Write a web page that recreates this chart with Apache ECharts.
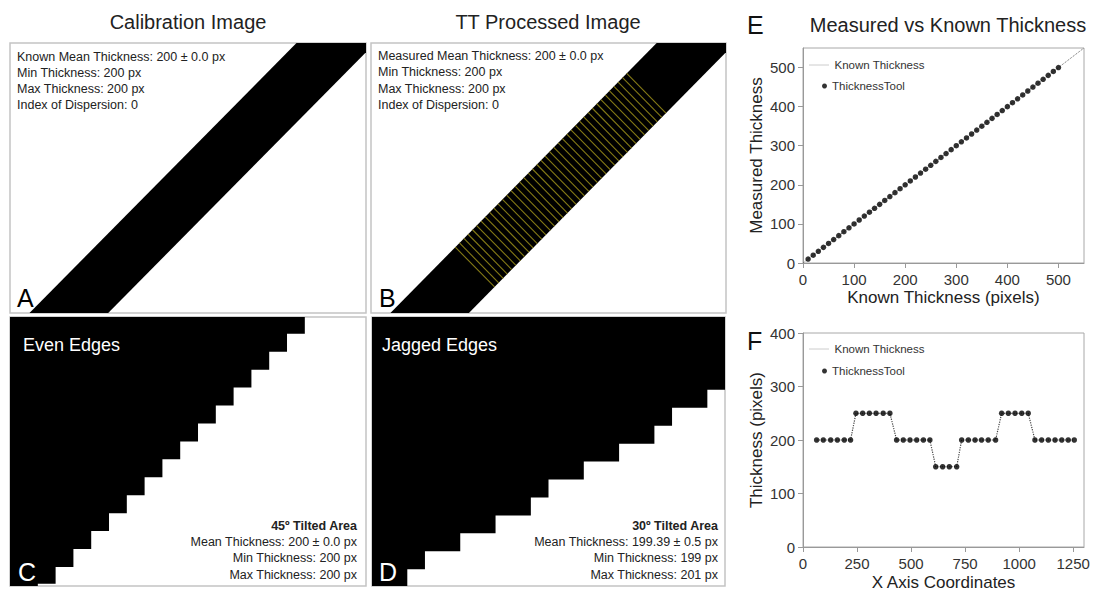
<!DOCTYPE html>
<html>
<head>
<meta charset="utf-8">
<script src="https://cdn.jsdelivr.net/npm/echarts@6/dist/echarts.min.js"></script>
<style>
  html, body { margin: 0; padding: 0; background: #fff; }
  #chart { width: 1095px; height: 591px; }
</style>
</head>
<body>
<div id="chart"></div>
<script>
const FONT = "'Liberation Sans', Arial, Helvetica, sans-serif";

// ---- Test images (pixel coordinates of a 1280 x 960 image, y pointing down) ----
const imageSize = [1280, 960];

// Straight calibration band: its two edges, each given by the point on the top row and on the bottom row
const bandUpperEdge = [[1030, 0], [70, 960]];
const bandLowerEdge = [[1313, 0], [353, 960]];

// Where each thickness probe starts on the band's upper edge (row of the image)
const probeRows = [108, 123, 139, 154, 170, 185, 201, 216, 232, 247, 263, 278, 293, 309, 324, 340,
                   355, 371, 386, 402, 417, 432, 448, 463, 479, 494, 510, 525, 541, 556, 572, 587,
                   602, 618, 633, 649, 664, 680, 695, 711, 726];

// Even-edged 45° staircase: column reached by each step, and the row where each step ends
const evenStepX = [1060, 996, 932, 868, 804, 740, 676, 612, 548, 484, 420, 356, 292, 228, 164, 100];
const evenStepY = [60, 124, 188, 252, 316, 380, 444, 508, 572, 636, 700, 764, 828, 892, 952];

// Jagged-edged 30° staircase
const jaggedStepX = [1280, 1216, 1088, 1024, 896, 768, 640, 576, 448, 320, 192, 128];
const jaggedStepY = [260, 324, 388, 452, 516, 580, 644, 708, 772, 836, 900];

// ---- E: measured vs known thickness ----
const eKnown = [10, 20, 30, 40, 50, 60, 70, 80, 90, 100, 110, 120, 130, 140, 150, 160, 170, 180, 190, 200,
                210, 220, 230, 240, 250, 260, 270, 280, 290, 300, 310, 320, 330, 340, 350, 360, 370, 380, 390, 400,
                410, 420, 430, 440, 450, 460, 470, 480, 490, 500];
const eMeasured = [10, 20, 30, 40, 50, 60, 70, 80, 90, 100, 110, 120, 130, 140, 150, 160, 170, 180, 190, 200,
                   210, 220, 230, 240, 250, 260, 270, 280, 290, 300, 310, 320, 330, 340, 350, 360, 370, 380, 390, 400,
                   410, 420, 430, 440, 450, 460, 470, 480, 490, 500];
const eIdentityX = [0, 550];
const eIdentityY = [0, 550];
const eTicks = [0, 100, 200, 300, 400, 500];

// ---- F: thickness along the x axis of a shape with steps ----
const fX = [63, 94, 128, 159, 191, 220, 245, 276, 307, 338, 371, 402, 433, 464, 495, 526, 557, 587, 614, 646,
            677, 711, 734, 765, 796, 826, 857, 891, 919, 950, 981, 1012, 1042, 1073, 1104, 1135, 1166, 1197, 1227, 1255];
const fKnown = [200, 200, 200, 200, 200, 200, 250, 250, 250, 250, 250, 250, 200, 200, 200, 200, 200, 200, 150, 150,
                150, 150, 200, 200, 200, 200, 200, 200, 250, 250, 250, 250, 250, 200, 200, 200, 200, 200, 200, 200];
const fMeasured = [200, 200, 200, 200, 200, 200, 250, 250, 250, 250, 250, 250, 200, 200, 200, 200, 200, 200, 150, 150,
                   150, 150, 200, 200, 200, 200, 200, 200, 250, 250, 250, 250, 250, 200, 200, 200, 200, 200, 200, 200];
const fXTicks = [0, 250, 500, 750, 1000, 1250];
const fYTicks = [0, 100, 200, 300, 400];

// ---- geometry helpers ----
function cross(a, b) { return a[0] * b[1] - a[1] * b[0]; }

function bandPolygon() {
  return [bandUpperEdge[0], bandLowerEdge[0], bandLowerEdge[1], bandUpperEdge[1]];
}

// Each probe runs perpendicular to the band, from the upper edge to the lower edge
function probeSegments() {
  const U0 = bandUpperEdge[0], U1 = bandUpperEdge[1];
  const L0 = bandLowerEdge[0], L1 = bandLowerEdge[1];
  const d = [U1[0] - U0[0], U1[1] - U0[1]];
  const n = [Math.abs(d[1]), Math.abs(d[0])];
  const dL = [L1[0] - L0[0], L1[1] - L0[1]];
  return probeRows.map(function (row) {
    const t = (row - U0[1]) / (U1[1] - U0[1]);
    const p = [U0[0] + t * d[0], row];
    const s = cross([L0[0] - p[0], L0[1] - p[1]], dL) / cross(n, dL);
    return [p[0], p[1], p[0] + s * n[0], p[1] + s * n[1]];
  });
}

function stairPolygon(xs, ys) {
  const pts = [[0, 0], [xs[0], 0]];
  for (let i = 0; i < ys.length; i++) {
    pts.push([xs[i], ys[i]]);
    pts.push([xs[i + 1], ys[i]]);
  }
  pts.push([xs[xs.length - 1], imageSize[1]]);
  pts.push([0, imageSize[1]]);
  return pts;
}

function polygonSeries(gridIndex, pts, color) {
  return {
    type: 'custom', xAxisIndex: gridIndex, yAxisIndex: gridIndex,
    clip: true, silent: true, z: 2,
    data: pts,
    renderItem: function (params, api) {
      if (params.dataIndex !== 0) return null;
      return {
        type: 'polygon',
        shape: { points: pts.map(function (p) { return api.coord(p); }) },
        style: { fill: color, stroke: null }
      };
    }
  };
}

// ---- layout ----
const imgBorder = { show: true, backgroundColor: '#fff', borderColor: '#c4c4c4', borderWidth: 1.5, outerBoundsMode: 'none' };
const plotBorder = { show: true, backgroundColor: '#fff', borderColor: '#a8a8a8', borderWidth: 1, outerBoundsMode: 'none' };
const grids = [
  Object.assign({ left: 10, top: 43, width: 356, height: 270 }, imgBorder),
  Object.assign({ left: 371, top: 43, width: 355, height: 270 }, imgBorder),
  Object.assign({ left: 10, top: 317, width: 356, height: 269 }, imgBorder),
  Object.assign({ left: 372, top: 317, width: 353, height: 269 }, imgBorder),
  Object.assign({ left: 803, top: 48, width: 281, height: 215 }, plotBorder),
  Object.assign({ left: 803, top: 333, width: 281, height: 214 }, plotBorder)
];

const xAxes = [], yAxes = [];
for (let g = 0; g < 4; g++) {
  xAxes.push({ gridIndex: g, type: 'value', min: 0, max: imageSize[0], show: false });
  yAxes.push({ gridIndex: g, type: 'value', min: 0, max: imageSize[1], inverse: true, show: false });
}

function plotAxis(gridIndex, max, ticks, name, nameGap, margin) {
  return {
    gridIndex: gridIndex, type: 'value', min: 0, max: max,
    axisLine: { show: true, onZero: false, lineStyle: { color: '#999', width: 1 } },
    axisTick: { show: true, length: 5, customValues: ticks, lineStyle: { color: '#999' } },
    axisLabel: {
      customValues: ticks, fontSize: 15, color: '#333', margin: margin, fontFamily: FONT,
      formatter: function (v) { return String(v); }
    },
    splitLine: { show: false },
    name: name, nameLocation: 'middle', nameGap: nameGap,
    nameTextStyle: { fontSize: 17, color: '#222', fontFamily: FONT }
  };
}
xAxes.push(plotAxis(4, 550, eTicks, 'Known Thickness (pixels)', 26, 9));
yAxes.push(plotAxis(4, 550, eTicks, 'Measured Thickness', 38, 8));
xAxes.push(plotAxis(5, 1300, fXTicks, 'X Axis Coordinates', 27, 9));
yAxes.push(plotAxis(5, 400, fYTicks, 'Thickness (pixels)', 38, 8));

function zip(a, b) { return a.map(function (v, i) { return [v, b[i]]; }); }

const series = [
  polygonSeries(0, bandPolygon(), '#000'),
  polygonSeries(1, bandPolygon(), '#000'),
  {
    type: 'custom', xAxisIndex: 1, yAxisIndex: 1, clip: true, silent: true, z: 3,
    data: probeSegments(),
    renderItem: function (params, api) {
      const a = api.coord([api.value(0), api.value(1)]);
      const b = api.coord([api.value(2), api.value(3)]);
      return {
        type: 'line',
        shape: { x1: a[0], y1: a[1], x2: b[0], y2: b[1] },
        style: { stroke: '#857a16', lineWidth: 1.1 }
      };
    }
  },
  polygonSeries(2, stairPolygon(evenStepX, evenStepY), '#000'),
  polygonSeries(3, stairPolygon(jaggedStepX, jaggedStepY), '#000'),
  {
    name: 'Known Thickness', type: 'line', xAxisIndex: 4, yAxisIndex: 4,
    data: zip(eIdentityX, eIdentityY), symbol: 'none', silent: true, z: 2,
    lineStyle: { color: '#666', width: 1, type: 'dotted' }, itemStyle: { color: '#666' }
  },
  {
    name: 'ThicknessTool', type: 'scatter', xAxisIndex: 4, yAxisIndex: 4,
    data: zip(eKnown, eMeasured), symbol: 'circle', symbolSize: 5.5, silent: true, z: 3,
    itemStyle: { color: '#000' }
  },
  {
    name: 'Known Thickness', type: 'line', xAxisIndex: 5, yAxisIndex: 5,
    data: zip(fX, fKnown), symbol: 'none', silent: true, z: 2,
    lineStyle: { color: '#444', width: 1.2, type: 'dotted' }, itemStyle: { color: '#666' }
  },
  {
    name: 'ThicknessTool', type: 'scatter', xAxisIndex: 5, yAxisIndex: 5,
    data: zip(fX, fMeasured), symbol: 'circle', symbolSize: 5.5, silent: true, z: 3,
    itemStyle: { color: '#000' }
  }
];

const legendText = { fontSize: 11.5, color: '#333', fontFamily: FONT };
// dotted sample only, no marker in the middle
const lineKey = {
  itemWidth: 20, itemHeight: 8,
  itemStyle: { color: 'rgba(0,0,0,0)', borderWidth: 0, opacity: 0 },
  lineStyle: { color: '#999', width: 1, type: 'dotted' }
};
const dotKey = { itemWidth: 5, itemHeight: 5, itemStyle: { color: '#000' } };
const legends = [
  Object.assign({ data: ['Known Thickness'], left: 809, top: 59 }, lineKey),
  Object.assign({ data: ['ThicknessTool'], left: 822, top: 80 }, dotKey),
  Object.assign({ data: ['Known Thickness'], left: 809, top: 343 }, lineKey),
  Object.assign({ data: ['ThicknessTool'], left: 822, top: 365 }, dotKey)
].map(function (l) {
  return Object.assign({ orient: 'horizontal', padding: 0, selectedMode: false, textStyle: legendText }, l);
});

// ---- text ----
function txt(x, y, s, size, opt) {
  opt = opt || {};
  const align = opt.align || 'left';
  return {
    type: 'text', x: x, y: y, z: 100, silent: true,
    style: {
      text: s, fill: opt.color || '#222',
      font: (opt.weight || 'normal') + ' ' + size + 'px ' + FONT,
      align: align, textAlign: align, verticalAlign: 'middle', textVerticalAlign: 'middle'
    }
  };
}

const graphics = [
  txt(188, 22, 'Calibration Image', 20, { align: 'center' }),
  txt(548, 22, 'TT Processed Image', 20, { align: 'center' }),
  txt(948, 25, 'Measured vs Known Thickness', 20, { align: 'center' }),
  txt(747, 25, 'E', 25, { color: '#111' }),
  txt(747, 341, 'F', 25, { color: '#111' }),

  txt(17, 57, 'Known Mean Thickness: 200 ± 0.0 px', 12.5),
  txt(17, 73, 'Min Thickness: 200 px', 12.5),
  txt(17, 89, 'Max Thickness: 200 px', 12.5),
  txt(17, 105, 'Index of Dispersion: 0', 12.5),
  txt(17, 298, 'A', 25, { color: '#000' }),

  txt(378, 56, 'Measured Mean Thickness: 200 ± 0.0 px', 12.5),
  txt(378, 72, 'Min Thickness: 200 px', 12.5),
  txt(378, 89, 'Max Thickness: 200 px', 12.5),
  txt(378, 105, 'Index of Dispersion: 0', 12.5),
  txt(379, 298, 'B', 25, { color: '#000' }),

  txt(23, 345, 'Even Edges', 18, { color: '#fff' }),
  txt(18, 572, 'C', 25, { color: '#fff' }),
  txt(357, 526, '45º Tilted Area', 12.5, { align: 'right', weight: 'bold' }),
  txt(357, 542, 'Mean Thickness: 200 ± 0.0 px', 12.5, { align: 'right' }),
  txt(357, 558, 'Min Thickness: 200 px', 12.5, { align: 'right' }),
  txt(357, 575, 'Max Thickness: 200 px', 12.5, { align: 'right' }),

  txt(382, 345, 'Jagged Edges', 18, { color: '#fff' }),
  txt(379, 572, 'D', 25, { color: '#fff' }),
  txt(718, 526, '30º Tilted Area', 12.5, { align: 'right', weight: 'bold' }),
  txt(718, 542, 'Mean Thickness: 199.39 ± 0.5 px', 12.5, { align: 'right' }),
  txt(718, 558, 'Min Thickness: 199 px', 12.5, { align: 'right' }),
  txt(718, 575, 'Max Thickness: 201 px', 12.5, { align: 'right' })
];

const chart = echarts.init(document.getElementById('chart'), null, { renderer: 'svg' });
chart.setOption({
  animation: false,
  backgroundColor: '#fff',
  textStyle: { fontFamily: FONT },
  grid: grids,
  xAxis: xAxes,
  yAxis: yAxes,
  legend: legends,
  series: series,
  graphic: { elements: graphics }
});
</script>
</body>
</html>
